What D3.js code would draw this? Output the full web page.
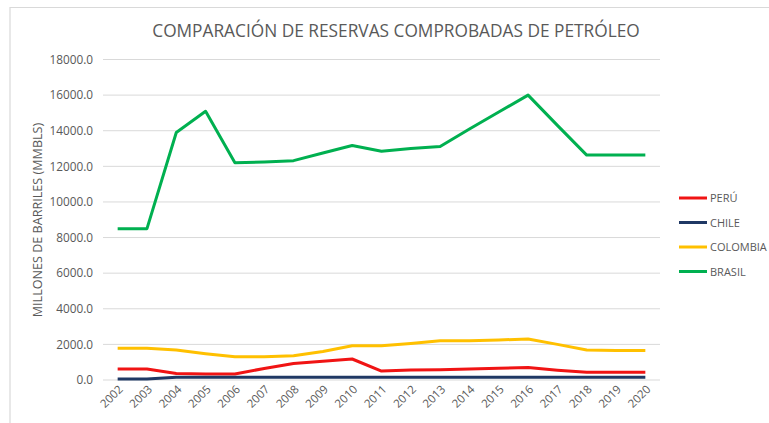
<!DOCTYPE html>
<html><head><meta charset="utf-8">
<script src="https://cdn.jsdelivr.net/npm/d3@7"></script>
<style>body{margin:0;background:#fff;} svg{display:block;font-family:"Open Sans",sans-serif;}</style>
</head><body><svg id="c" width="769" height="423"></svg>
<script>
const years = ["2002","2003","2004","2005","2006","2007","2008","2009","2010","2011","2012","2013","2014","2015","2016","2017","2018","2019","2020"];
const peru     = [620,620,370,330,340,650,930,1050,1180,500,560,580,620,660,700,550,430,430,430];
const chile    = [60,60,150,150,150,150,150,150,150,150,150,150,150,150,150,150,150,150,150];
const colombia = [1780,1780,1680,1480,1310,1300,1360,1600,1920,1920,2050,2200,2200,2250,2300,2000,1680,1650,1650];
const brasil   = [8500,8500,13900,15090,12200,12250,12320,12750,13170,12850,13000,13110,14100,15050,16000,14300,12630,12630,12630];
const yTicks = [0,2000,4000,6000,8000,10000,12000,14000,16000,18000];
const seriesNames = ["PERÚ","CHILE","COLOMBIA","BRASIL"];
const seriesColors = ["#f01414","#1f3864","#ffc000","#00b050"];
const seriesData = [peru, chile, colombia, brasil];

const svg = d3.select("#c");
// frame
svg.append("path").attr("d","M10,423 L10,7.5 L769,7.5").attr("fill","none").attr("stroke","#d9d9d9").attr("stroke-width",1.2);

const x = d3.scaleBand().domain(years).range([103,660]);
const y = d3.scaleLinear().domain([0,18000]).range([380,59.5]);

// gridlines
svg.append("g").selectAll("line").data(yTicks).join("line")
  .attr("x1",103).attr("x2",660).attr("y1",d=>y(d)).attr("y2",d=>y(d))
  .attr("stroke","#d9d9d9").attr("stroke-width",1);

// y axis labels
const yAxis = d3.axisLeft(y).tickValues(yTicks).tickFormat(d=>d3.format(".1f")(d)).tickSize(0).tickPadding(10);
const gy = svg.append("g").attr("transform","translate(103,0)").call(yAxis);
gy.select(".domain").remove();
gy.selectAll("text").attr("fill","#595959").attr("font-size",11.8).attr("font-family","Open Sans");

// x axis labels
const xAxis = d3.axisBottom(x).tickSize(0).tickPadding(0);
const gx = svg.append("g").attr("transform","translate(0,380)").call(xAxis);
gx.select(".domain").remove();
gx.selectAll("text").attr("fill","#595959").attr("font-size",11.5).attr("font-family","Open Sans")
  .attr("text-anchor","end").attr("dy",null).attr("y",0)
  .attr("transform","translate(6,10) rotate(-45)");

// lines
const line = d3.line().x((d,i)=>x(years[i])+x.bandwidth()/2).y(d=>y(d));
const order = [3,2,0,1];
order.forEach(k=>{
  svg.append("path").datum(seriesData[k]).attr("d",line).attr("fill","none")
    .attr("stroke",seriesColors[k]).attr("stroke-width",3).attr("stroke-linejoin","round");
});

// title
svg.append("text").attr("x",396).attr("y",37).attr("text-anchor","middle")
  .attr("fill","#595959").attr("font-size",17.3).attr("font-family","Open Sans")
  .text("COMPARACIÓN DE RESERVAS COMPROBADAS DE PETRÓLEO");

// y title
svg.append("text").attr("transform","translate(42,220) rotate(-90)").attr("text-anchor","middle")
  .attr("fill","#595959").attr("font-size",12.6).attr("font-family","Open Sans")
  .text("MILLONES DE BARRILES (MMBLS)");

// legend
const lg = svg.append("g");
seriesNames.forEach((n,i)=>{
  const yy = 198 + i*24.5;
  lg.append("line").attr("x1",679).attr("x2",707).attr("y1",yy).attr("y2",yy).attr("stroke",seriesColors[i]).attr("stroke-width",3);
  lg.append("text").attr("x",710).attr("y",yy+4).attr("fill","#595959").attr("font-size",11).attr("font-family","Open Sans").text(n);
});
</script></body></html>
